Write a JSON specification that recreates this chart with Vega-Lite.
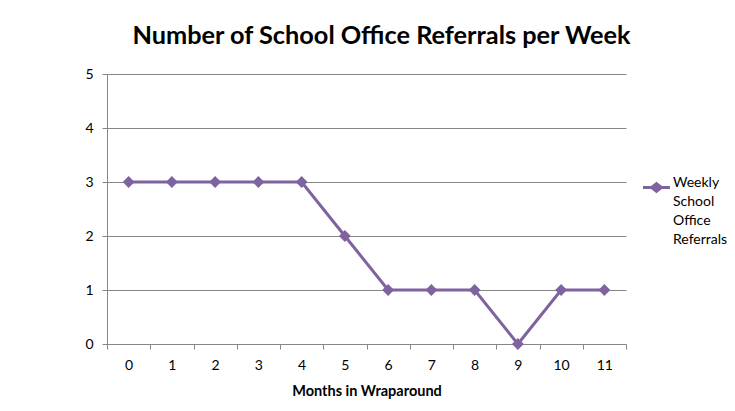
{
  "$schema": "https://vega.github.io/schema/vega-lite/v6.json",
  "autosize": {"type": "none"},
  "padding": {"left": 107, "top": 74, "right": 109, "bottom": 67},
  "width": 519,
  "height": 270,
  "background": "white",
  "title": {
    "text": "Number of School Office Referrals per Week",
    "font": "Lato",
    "fontSize": 25.3,
    "fontWeight": "bold",
    "color": "#000000",
    "anchor": "middle",
    "dx": 15,
    "offset": 18
  },
  "data": {
    "values": [
      {"month": 0, "referrals": 3, "series": "Weekly School Office Referrals"},
      {"month": 1, "referrals": 3, "series": "Weekly School Office Referrals"},
      {"month": 2, "referrals": 3, "series": "Weekly School Office Referrals"},
      {"month": 3, "referrals": 3, "series": "Weekly School Office Referrals"},
      {"month": 4, "referrals": 3, "series": "Weekly School Office Referrals"},
      {"month": 5, "referrals": 2, "series": "Weekly School Office Referrals"},
      {"month": 6, "referrals": 1, "series": "Weekly School Office Referrals"},
      {"month": 7, "referrals": 1, "series": "Weekly School Office Referrals"},
      {"month": 8, "referrals": 1, "series": "Weekly School Office Referrals"},
      {"month": 9, "referrals": 0, "series": "Weekly School Office Referrals"},
      {"month": 10, "referrals": 1, "series": "Weekly School Office Referrals"},
      {"month": 11, "referrals": 1, "series": "Weekly School Office Referrals"}
    ]
  },
  "mark": {
    "type": "line",
    "strokeWidth": 3,
    "point": {"shape": "diamond", "size": 140, "filled": true, "opacity": 1}
  },
  "encoding": {
    "x": {
      "field": "month",
      "type": "ordinal",
      "bandPosition": 0.5,
      "scale": {"type": "band", "paddingInner": 0, "paddingOuter": 0},
      "axis": {
        "title": "Months in Wraparound",
        "titleFont": "Lato",
        "titleFontSize": 14.5,
        "titleFontWeight": "bold",
        "titleColor": "#000000",
        "titlePadding": 12,
        "labelAngle": 0,
        "labelFont": "Lato",
        "labelFontSize": 14,
        "labelColor": "#000000",
        "labelPadding": 9,
        "tickBand": "extent",
        "tickSize": 5,
        "tickColor": "#868686",
        "domainColor": "#868686",
        "grid": false
      }
    },
    "y": {
      "field": "referrals",
      "type": "quantitative",
      "scale": {"domain": [0, 5], "nice": false},
      "axis": {
        "title": null,
        "values": [0, 1, 2, 3, 4, 5],
        "labelFont": "Lato",
        "labelFontSize": 14,
        "labelColor": "#000000",
        "labelPadding": 9,
        "tickSize": 5,
        "tickColor": "#868686",
        "domainColor": "#868686",
        "grid": true,
        "gridColor": "#868686",
        "gridOpacity": 1
      }
    },
    "color": {
      "field": "series",
      "type": "nominal",
      "scale": {"range": ["#7F63A1"]},
      "legend": {
        "title": null,
        "orient": "none",
        "legendX": 536,
        "legendY": 100,
        "symbolType": "M-1,-0.11L-0.4,-0.11L0,-0.42L0.4,-0.11L1,-0.11L1,0.11L0.4,0.11L0,0.42L-0.4,0.11L-1,0.11Z",
        "symbolSize": 729,
        "symbolFillColor": "#7F63A1",
        "symbolStrokeWidth": 0,
        "labelFont": "Lato",
        "labelFontSize": 14,
        "labelColor": "#000000",
        "labelBaseline": "top",
        "labelOffset": 3,
        "labelExpr": "split(datum.label, ' ')",
        "encode": {
          "symbols": {"update": {"fill": {"value": "#7F63A1"}, "stroke": {"value": "transparent"}, "opacity": {"value": 1}}},
          "labels": {"update": {"lineHeight": {"value": 19}, "dy": {"value": -12}}}
        }
      }
    }
  },
  "config": {
    "view": {"stroke": null}
  }
}
